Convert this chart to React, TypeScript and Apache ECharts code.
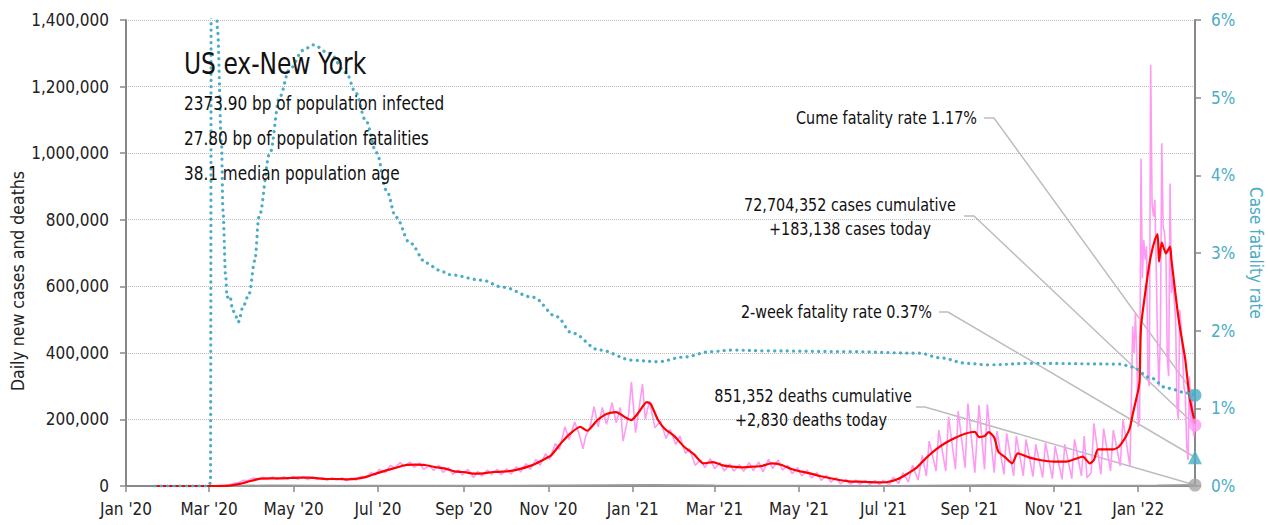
import React, { useEffect, useRef } from 'react';
import * as echarts from 'echarts';

const FONT = '"DejaVu Sans Condensed", "Liberation Sans Narrow", "Noto Sans", sans-serif';

// ---- axis ticks ----
const xTickDates = [
  '2020-01-01', '2020-03-01', '2020-05-01', '2020-07-01', '2020-09-01', '2020-11-01',
  '2021-01-01', '2021-03-01', '2021-05-01', '2021-07-01', '2021-09-01', '2021-11-01', '2022-01-01',
];
const xTickLabels = [
  "Jan '20", "Mar '20", "May '20", "Jul '20", "Sep '20", "Nov '20",
  "Jan '21", "Mar '21", "May '21", "Jul '21", "Sep '21", "Nov '21", "Jan '22",
];
const xStart = '2020-01-01';
const lastDate = '2022-02-11';

// ---- titles ----
const leftAxisName = 'Daily new cases and deaths';
const rightAxisName = 'Case fatality rate';

// ---- headline numbers ----
const regionName = 'US ex-New York';
const infectedBp = '2373.90';
const fatalitiesBp = '27.80';
const medianAge = '38.1';
const cumeRate = 1.17;
const twoWeekRate = 0.37;
const casesCumulative = 72704352;
const casesToday = 183138;
const deathsCumulative = 851352;
const deathsToday = 2830;

// ---- series ----
const casesDaily: [string, number][] = [
  ['2020-01-22', 0], ['2020-03-01', 0], ['2020-03-08', 500], ['2020-03-12', 1500], ['2020-03-15', 2500],
  ['2020-03-19', 8000], ['2020-03-22', 10000], ['2020-03-26', 17000], ['2020-03-29', 16000], ['2020-04-02', 24000],
  ['2020-04-05', 20000], ['2020-04-09', 26000], ['2020-04-12', 20000], ['2020-04-16', 27000], ['2020-04-19', 20000],
  ['2020-04-24', 28000], ['2020-04-27', 20000], ['2020-05-01', 29000], ['2020-05-04', 20000], ['2020-05-08', 28000],
  ['2020-05-11', 19000], ['2020-05-15', 27000], ['2020-05-18', 20000], ['2020-05-22', 25000], ['2020-05-25', 17000],
  ['2020-05-29', 25000], ['2020-06-01', 18000], ['2020-06-05', 24000], ['2020-06-08', 16000], ['2020-06-12', 24000],
  ['2020-06-15', 18000], ['2020-06-19', 29000], ['2020-06-22', 24000], ['2020-06-26', 40000], ['2020-06-29', 34000],
  ['2020-07-02', 50000], ['2020-07-06', 40000], ['2020-07-10', 62000], ['2020-07-13', 54000], ['2020-07-17', 70000],
  ['2020-07-20', 58000], ['2020-07-24', 72000], ['2020-07-27', 56000], ['2020-07-31', 69000], ['2020-08-03', 50000],
  ['2020-08-07', 62000], ['2020-08-10', 47000], ['2020-08-14', 62000], ['2020-08-17', 41000], ['2020-08-21', 55000],
  ['2020-08-24', 35000], ['2020-08-28', 48000], ['2020-08-31', 33000], ['2020-09-04', 50000], ['2020-09-08', 25000],
  ['2020-09-11', 44000], ['2020-09-14', 30000], ['2020-09-18', 48000], ['2020-09-21', 34000], ['2020-09-25', 50000],
  ['2020-09-28', 34000], ['2020-10-02', 52000], ['2020-10-05', 36000], ['2020-10-09', 58000], ['2020-10-12', 42000],
  ['2020-10-16', 67000], ['2020-10-19', 50000], ['2020-10-23', 80000], ['2020-10-26', 62000], ['2020-10-30', 97000],
  ['2020-11-02', 80000], ['2020-11-06', 128000], ['2020-11-09', 110000], ['2020-11-13', 178000], ['2020-11-16', 140000],
  ['2020-11-20', 192000], ['2020-11-23', 160000], ['2020-11-26', 112000], ['2020-11-28', 150000], ['2020-12-01', 175000],
  ['2020-12-04', 238000], ['2020-12-07', 178000], ['2020-12-10', 236000], ['2020-12-13', 185000], ['2020-12-17', 250000],
  ['2020-12-20', 190000], ['2020-12-23', 236000], ['2020-12-25', 135000], ['2020-12-29', 215000], ['2020-12-31', 313000],
  ['2021-01-03', 160000], ['2021-01-08', 306000], ['2021-01-10', 200000], ['2021-01-13', 255000], ['2021-01-17', 175000],
  ['2021-01-21', 195000], ['2021-01-25', 143000], ['2021-01-28', 170000], ['2021-02-01', 125000], ['2021-02-04', 150000],
  ['2021-02-08', 98000], ['2021-02-11', 112000], ['2021-02-15', 62000], ['2021-02-19', 78000], ['2021-02-22', 55000],
  ['2021-02-26', 82000], ['2021-03-01', 52000], ['2021-03-05', 70000], ['2021-03-08', 45000], ['2021-03-12', 66000],
  ['2021-03-15', 45000], ['2021-03-19', 64000], ['2021-03-22', 44000], ['2021-03-26', 70000], ['2021-03-29', 46000],
  ['2021-04-02', 72000], ['2021-04-05', 42000], ['2021-04-09', 80000], ['2021-04-12', 52000], ['2021-04-16', 78000],
  ['2021-04-19', 48000], ['2021-04-23', 62000], ['2021-04-26', 37000], ['2021-04-30', 55000], ['2021-05-03', 30000],
  ['2021-05-07', 48000], ['2021-05-10', 24000], ['2021-05-14', 40000], ['2021-05-17', 17000], ['2021-05-21', 32000],
  ['2021-05-24', 12000], ['2021-05-28', 25000], ['2021-05-31', 6000], ['2021-06-04', 20000], ['2021-06-07', 5000],
  ['2021-06-11', 18000], ['2021-06-14', 5000], ['2021-06-18', 17000], ['2021-06-21', 4000], ['2021-06-25', 16000],
  ['2021-06-28', 4000], ['2021-07-01', 18000], ['2021-07-05', 3000], ['2021-07-08', 26000], ['2021-07-12', 8000],
  ['2021-07-15', 40000], ['2021-07-19', 12000], ['2021-07-22', 62000], ['2021-07-26', 18000], ['2021-07-29', 92000],
  ['2021-08-01', 30000], ['2021-08-03', 135000], ['2021-08-08', 45000], ['2021-08-10', 168000], ['2021-08-15', 45000],
  ['2021-08-17', 208000], ['2021-08-22', 50000], ['2021-08-24', 225000], ['2021-08-29', 55000], ['2021-08-31', 248000],
  ['2021-09-05', 40000], ['2021-09-08', 243000], ['2021-09-12', 50000], ['2021-09-14', 245000], ['2021-09-19', 40000],
  ['2021-09-21', 165000], ['2021-09-26', 35000], ['2021-09-28', 158000], ['2021-10-03', 30000], ['2021-10-05', 150000],
  ['2021-10-10', 30000], ['2021-10-12', 140000], ['2021-10-17', 28000], ['2021-10-19', 125000], ['2021-10-24', 25000],
  ['2021-10-26', 130000], ['2021-10-31', 22000], ['2021-11-02', 120000], ['2021-11-07', 20000], ['2021-11-09', 125000],
  ['2021-11-14', 22000], ['2021-11-16', 140000], ['2021-11-21', 30000], ['2021-11-23', 150000], ['2021-11-25', 25000],
  ['2021-11-28', 40000], ['2021-11-30', 188000], ['2021-12-05', 35000], ['2021-12-07', 172000], ['2021-12-12', 45000],
  ['2021-12-14', 168000], ['2021-12-19', 60000], ['2021-12-21', 200000], ['2021-12-24', 115000], ['2021-12-26', 60000],
  ['2021-12-27', 250000], ['2021-12-28', 480000], ['2021-12-29', 400000], ['2021-12-30', 520000], ['2021-12-31', 380000],
  ['2022-01-01', 178000], ['2022-01-02', 200000], ['2022-01-03', 984000], ['2022-01-04', 624000], ['2022-01-05', 740000],
  ['2022-01-06', 680000], ['2022-01-07', 720000], ['2022-01-08', 330000], ['2022-01-09', 300000], ['2022-01-10', 1265000],
  ['2022-01-11', 849000], ['2022-01-12', 809000], ['2022-01-13', 860000], ['2022-01-14', 659000], ['2022-01-15', 420000],
  ['2022-01-16', 300000], ['2022-01-17', 450000], ['2022-01-18', 1030000], ['2022-01-19', 779000], ['2022-01-20', 759000],
  ['2022-01-21', 700000], ['2022-01-22', 380000], ['2022-01-23', 330000], ['2022-01-24', 909000], ['2022-01-25', 579000],
  ['2022-01-26', 620000], ['2022-01-27', 560000], ['2022-01-28', 500000], ['2022-01-29', 240000], ['2022-01-30', 200000],
  ['2022-01-31', 529000], ['2022-02-01', 480000], ['2022-02-02', 400000], ['2022-02-03', 298000], ['2022-02-04', 278000],
  ['2022-02-05', 120000], ['2022-02-06', 78000], ['2022-02-07', 330000], ['2022-02-08', 198000], ['2022-02-09', 280000],
  ['2022-02-10', 150000], ['2022-02-11', 183138],
];

const casesAvg: [string, number][] = [
  ['2020-01-22', 0], ['2020-03-01', 0], ['2020-03-10', 500], ['2020-03-17', 2000], ['2020-03-24', 7000],
  ['2020-03-31', 15000], ['2020-04-07', 22000], ['2020-04-14', 23000], ['2020-04-21', 23000], ['2020-04-28', 24000],
  ['2020-05-05', 25000], ['2020-05-12', 25000], ['2020-05-19', 23000], ['2020-05-26', 21000], ['2020-06-02', 21000],
  ['2020-06-09', 20000], ['2020-06-16', 22000], ['2020-06-23', 28000], ['2020-06-30', 38000], ['2020-07-07', 47000],
  ['2020-07-14', 55000], ['2020-07-21', 63000], ['2020-07-28', 64000], ['2020-08-04', 63000], ['2020-08-11', 57000],
  ['2020-08-18', 53000], ['2020-08-25', 44000], ['2020-09-01', 42000], ['2020-09-08', 37000], ['2020-09-15', 38000],
  ['2020-09-22', 42000], ['2020-09-29', 43000], ['2020-10-06', 46000], ['2020-10-13', 53000], ['2020-10-20', 62000],
  ['2020-10-27', 76000], ['2020-11-03', 92000], ['2020-11-10', 128000], ['2020-11-17', 158000], ['2020-11-24', 178000],
  ['2020-11-29', 166000], ['2020-12-06', 196000], ['2020-12-13', 216000], ['2020-12-20', 222000], ['2020-12-27', 205000],
  ['2020-12-31', 198000], ['2021-01-05', 220000], ['2021-01-11', 252000], ['2021-01-14', 246000], ['2021-01-19', 200000],
  ['2021-01-24', 172000], ['2021-01-31', 150000], ['2021-02-07', 118000], ['2021-02-14', 96000], ['2021-02-21', 68000],
  ['2021-02-28', 72000], ['2021-03-07', 62000], ['2021-03-14', 58000], ['2021-03-21', 56000], ['2021-03-28', 58000],
  ['2021-04-04', 60000], ['2021-04-11', 68000], ['2021-04-18', 64000], ['2021-04-25', 52000], ['2021-05-02', 44000],
  ['2021-05-09', 38000], ['2021-05-16', 30000], ['2021-05-23', 24000], ['2021-05-30', 18000], ['2021-06-06', 14000],
  ['2021-06-13', 13000], ['2021-06-20', 12000], ['2021-06-27', 11000], ['2021-07-04', 12000], ['2021-07-11', 20000],
  ['2021-07-18', 36000], ['2021-07-25', 55000], ['2021-08-01', 85000], ['2021-08-08', 110000], ['2021-08-15', 130000],
  ['2021-08-22', 145000], ['2021-08-29', 157000], ['2021-09-05', 163000], ['2021-09-08', 147000], ['2021-09-12', 150000],
  ['2021-09-15', 162000], ['2021-09-19', 146000], ['2021-09-22', 103000], ['2021-09-27', 86000], ['2021-10-02', 68000],
  ['2021-10-06', 98000], ['2021-10-14', 86000], ['2021-10-22', 78000], ['2021-11-01', 73000], ['2021-11-10', 73000],
  ['2021-11-17', 82000], ['2021-11-22', 88000], ['2021-11-27', 68000], ['2021-11-30', 78000], ['2021-12-03', 110000],
  ['2021-12-14', 110000], ['2021-12-18', 118000], ['2021-12-23', 148000], ['2021-12-26', 175000], ['2021-12-28', 215000],
  ['2022-01-01', 288000], ['2022-01-02', 318000], ['2022-01-03', 478000], ['2022-01-06', 579000], ['2022-01-08', 639000],
  ['2022-01-10', 689000], ['2022-01-13', 739000], ['2022-01-15', 757000], ['2022-01-16', 674000], ['2022-01-18', 731000],
  ['2022-01-21', 699000], ['2022-01-24', 719000], ['2022-01-25', 679000], ['2022-01-29', 539000], ['2022-01-31', 479000],
  ['2022-02-04', 379000], ['2022-02-07', 268000], ['2022-02-11', 188000],
];

const deathsDaily: [string, number][] = [
  ['2020-01-22', 0], ['2020-03-15', 50], ['2020-04-15', 1800], ['2020-06-01', 800], ['2020-08-01', 1000],
  ['2020-10-01', 700], ['2020-12-15', 2600], ['2021-01-15', 3100], ['2021-03-01', 1500], ['2021-05-01', 600],
  ['2021-07-01', 250], ['2021-09-15', 1900], ['2021-11-15', 1100], ['2022-01-15', 1800], ['2022-02-11', 2830],
];

const fatalityRate: [string, number][] = [
  ['2020-01-22', 0], ['2020-03-01', 0], ['2020-03-02', 0.05], ['2020-03-03', 14], ['2020-03-05', 8],
  ['2020-03-07', 5.9], ['2020-03-10', 4.4], ['2020-03-11', 3.55], ['2020-03-13', 2.69], ['2020-03-14', 2.43],
  ['2020-03-16', 2.45], ['2020-03-18', 2.27], ['2020-03-20', 2.2], ['2020-03-22', 2.11], ['2020-03-26', 2.33],
  ['2020-03-30', 2.48], ['2020-04-03', 2.9], ['2020-04-06', 3.46], ['2020-04-14', 4.29], ['2020-04-21', 5.01],
  ['2020-04-28', 5.36], ['2020-05-08', 5.61], ['2020-05-15', 5.68], ['2020-05-27', 5.57], ['2020-06-08', 5.32],
  ['2020-06-15', 5.06], ['2020-06-22', 4.71], ['2020-06-30', 4.29], ['2020-07-07', 3.81], ['2020-07-14', 3.46],
  ['2020-07-24', 3.13], ['2020-08-05', 2.87], ['2020-08-14', 2.78], ['2020-08-22', 2.72], ['2020-09-14', 2.65],
  ['2020-09-29', 2.56], ['2020-10-21', 2.43], ['2020-11-07', 2.18], ['2020-11-18', 1.97], ['2020-12-08', 1.75],
  ['2021-01-01', 1.62], ['2021-01-19', 1.6], ['2021-02-07', 1.66], ['2021-02-26', 1.73], ['2021-03-15', 1.75],
  ['2021-04-08', 1.74], ['2021-06-07', 1.73], ['2021-07-27', 1.71], ['2021-08-11', 1.65], ['2021-08-30', 1.58],
  ['2021-09-14', 1.56], ['2021-10-17', 1.58], ['2021-12-19', 1.57], ['2021-12-28', 1.53], ['2022-01-09', 1.4],
  ['2022-01-22', 1.26], ['2022-02-05', 1.2], ['2022-02-11', 1.17],
];

const TEAL = '#4aacc6';
const PINK = '#ff9af2';
const RED = '#ff0000';
const AXIS = '#888888';

const parseLocal = (d: string) => {
  const [y, m, day] = d.split('-').map(Number);
  return new Date(y, m - 1, day).getTime();
};
const toXY = (rows: [string, number][]) => rows.map(([d, v]) => [parseLocal(d), v]);
const fmt = (n: number) => n.toLocaleString('en-US');

export default function App() {
  const ref = useRef<HTMLDivElement>(null);

  useEffect(() => {
    document.body.style.margin = '0';
    if (!ref.current) return;
    const chart = echarts.init(ref.current, undefined, { renderer: 'svg' });
    const tickTimes = xTickDates.map(parseLocal);
    const last = parseLocal(lastDate);

    chart.setOption({
      animation: false,
      textStyle: { fontFamily: FONT },
      grid: { left: 126, right: 73, top: 20, bottom: 39, containLabel: false, outerBoundsMode: 'none' },
      xAxis: {
        type: 'value',
        min: parseLocal(xStart),
        max: last,
        axisLine: { show: true, lineStyle: { color: AXIS, width: 2 } },
        axisTick: { show: true, length: 6, lineStyle: { color: AXIS, width: 1.5 }, customValues: tickTimes },
        axisLabel: {
          customValues: tickTimes,
          fontFamily: FONT,
          fontSize: 17,
          color: '#222',
          margin: 14,
          formatter: (v: number) => {
            let best = 0;
            tickTimes.forEach((t, i) => {
              if (Math.abs(t - v) < Math.abs(tickTimes[best] - v)) best = i;
            });
            return xTickLabels[best];
          },
        },
        splitLine: { show: false },
      },
      yAxis: [
        {
          type: 'value',
          min: 0,
          max: 1400000,
          interval: 200000,
          axisLine: { show: true, lineStyle: { color: AXIS, width: 2 } },
          axisTick: { show: true, length: 6, lineStyle: { color: AXIS, width: 1.5 } },
          axisLabel: { fontFamily: FONT, fontSize: 17, color: '#222', margin: 17, formatter: (v: number) => fmt(v) },
          splitLine: { show: true, lineStyle: { color: '#bbbbbb', type: 'dotted', width: 1 } },
        },
        {
          type: 'value',
          min: 0,
          max: 6,
          interval: 1,
          position: 'right',
          name: rightAxisName,
          nameLocation: 'middle',
          nameRotate: -90,
          nameGap: 52,
          nameTextStyle: { fontFamily: FONT, fontSize: 17, color: TEAL },
          axisLine: { show: true, lineStyle: { color: AXIS, width: 2 } },
          axisTick: { show: true, length: 6, lineStyle: { color: AXIS, width: 1.5 } },
          axisLabel: { fontFamily: FONT, fontSize: 17, color: TEAL, margin: 16, formatter: '{value}%' },
          splitLine: { show: false },
        },
      ],
      series: [
        {
          name: 'Daily deaths',
          type: 'line',
          data: toXY(deathsDaily),
          showSymbol: false,
          lineStyle: { color: '#999999', width: 2 },
          z: 2,
        },
        {
          name: 'Daily new cases',
          type: 'line',
          data: toXY(casesDaily),
          showSymbol: false,
          lineStyle: { color: PINK, width: 1.6 },
          z: 3,
        },
        {
          name: 'New cases 7-day average',
          type: 'line',
          data: toXY(casesAvg),
          showSymbol: false,
          smooth: 0.2,
          lineStyle: { color: RED, width: 2.2 },
          z: 4,
        },
        {
          name: 'Case fatality rate',
          type: 'line',
          yAxisIndex: 1,
          data: toXY(fatalityRate),
          showSymbol: false,
          smooth: 0.35,
          smoothMonotone: 'x',
          clip: true,
          lineStyle: { color: TEAL, width: 3.2, type: [0.1, 6.2], cap: 'round' },
          z: 5,
        },
        {
          name: 'Cases today',
          type: 'scatter',
          data: [[last, casesToday]],
          symbol: 'circle',
          symbolSize: 13,
          itemStyle: { color: PINK },
          z: 6,
        },
        {
          name: 'Deaths today',
          type: 'scatter',
          data: [[last, deathsToday]],
          symbol: 'circle',
          symbolSize: 13,
          itemStyle: { color: '#a6a6a6' },
          z: 6,
        },
        {
          name: 'Cume fatality rate',
          type: 'scatter',
          yAxisIndex: 1,
          data: [[last, cumeRate]],
          symbol: 'circle',
          symbolSize: 13,
          itemStyle: { color: TEAL },
          z: 6,
        },
        {
          name: '2-week fatality rate',
          type: 'scatter',
          yAxisIndex: 1,
          data: [[last, twoWeekRate]],
          symbol: 'triangle',
          symbolSize: 14,
          itemStyle: { color: TEAL },
          z: 6,
        },
      ],
    });

    const pL = (v: number) => chart.convertToPixel({ xAxisIndex: 0, yAxisIndex: 0 }, [last, v]) as number[];
    const pR = (v: number) => chart.convertToPixel({ xAxisIndex: 0, yAxisIndex: 1 }, [last, v]) as number[];
    const leader = (x0: number, y0: number, x1: number, end: number[]) => ({
      type: 'polyline',
      silent: true,
      shape: { points: [[x0, y0], [x1, y0], end] },
      style: { stroke: '#bdbdbd', lineWidth: 1.5, fill: 'none' },
      z: 1,
    });
    const txt = (x: number, y: number, text: string, size: number, align: string = 'left', sy = 1) => ({
      type: 'text',
      x,
      y,
      scaleY: sy,
      silent: true,
      style: { text, fontFamily: FONT, fontSize: size, fill: '#111', align, verticalAlign: 'middle' },
      z: 10,
    });

    chart.setOption({
      graphic: [
        {
          type: 'text',
          x: 18,
          y: 281,
          rotation: Math.PI / 2,
          silent: true,
          style: { text: leftAxisName, fontFamily: FONT, fontSize: 17.5, fill: '#222', align: 'center', verticalAlign: 'middle' },
        },
        txt(184, 64, regionName, 26, 'left', 1.15),
        txt(184, 103, `${infectedBp} bp of population infected`, 17, 'left', 1.1),
        txt(184, 138, `${fatalitiesBp} bp of population fatalities`, 17, 'left', 1.1),
        txt(184, 173, `${medianAge} median population age`, 17, 'left', 1.1),
        txt(977, 118, `Cume fatality rate ${cumeRate.toFixed(2)}%`, 16, 'right', 1.1),
        txt(850, 205, `${fmt(casesCumulative)} cases cumulative`, 16, 'center', 1.1),
        txt(850, 229, `+${fmt(casesToday)} cases today`, 16, 'center', 1.1),
        txt(932, 312, `2-week fatality rate ${twoWeekRate.toFixed(2)}%`, 16, 'right', 1.1),
        txt(813, 396, `${fmt(deathsCumulative)} deaths cumulative`, 16, 'center', 1.1),
        txt(811, 420, `+${fmt(deathsToday)} deaths today`, 16, 'center', 1.1),
        leader(984, 118, 994, pR(cumeRate)),
        leader(964, 216, 974, pL(casesToday)),
        leader(939, 312, 948, pR(twoWeekRate)),
        leader(916, 407, 925, pL(deathsToday)),
      ],
    });

    return () => chart.dispose();
  }, []);

  return <div ref={ref} style={{ width: 1268, height: 525 }} />;
}
